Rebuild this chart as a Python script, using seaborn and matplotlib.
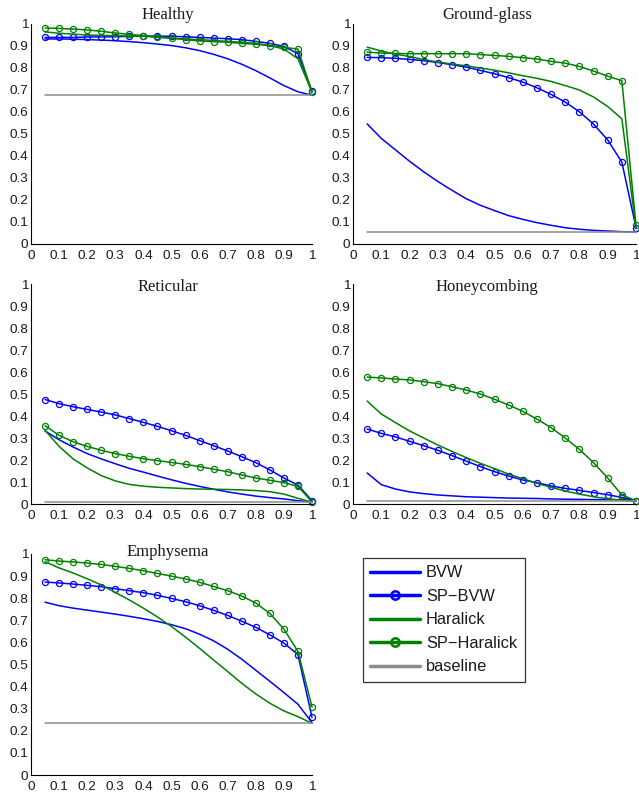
import matplotlib
matplotlib.use("Agg")
import matplotlib.pyplot as plt
from matplotlib.lines import Line2D
import seaborn as sns

# threshold positions on the x axis
thresholds = [0.05, 0.10, 0.15, 0.20, 0.25, 0.30, 0.35, 0.40, 0.45, 0.50,
              0.55, 0.60, 0.65, 0.70, 0.75, 0.80, 0.85, 0.90, 0.95, 1.00]

tick_values = [0, 0.1, 0.2, 0.3, 0.4, 0.5, 0.6, 0.7, 0.8, 0.9, 1]
tick_labels = ["0", "0.1", "0.2", "0.3", "0.4", "0.5", "0.6", "0.7", "0.8", "0.9", "1"]

titles = ["Healthy", "Ground-glass", "Reticular", "Honeycombing", "Emphysema"]
series_names = ["BVW", "SP\u2212BVW", "Haralick", "SP\u2212Haralick", "baseline"]

# Healthy
healthy_bvw = [.932, .932, .931, .929, .927, .924, .920, .915, .909, .902,
               .892, .879, .862, .842, .817, .788, .755, .720, .692, .676]
healthy_sp_bvw = [.939, .939, .939, .941, .941, .942, .944, .945, .945, .944,
                  .942, .939, .936, .933, .929, .921, .912, .898, .865, .694]
healthy_haralick = [.964, .958, .954, .950, .948, .947, .945, .944, .940, .936,
                    .932, .929, .925, .921, .917, .912, .902, .886, .842, .690]
healthy_sp_haralick = [.982, .980, .977, .973, .967, .959, .953, .947, .941, .935,
                       .929, .923, .920, .917, .912, .908, .902, .894, .886, .690]
healthy_baseline = 0.676

# Ground-glass
ground_bvw = [.546, .480, .428, .376, .328, .284, .244, .206, .176, .152,
              .129, .112, .097, .085, .074, .067, .062, .059, .056, .055]
ground_sp_bvw = [.848, .847, .844, .839, .833, .825, .815, .804, .789, .774,
                 .756, .736, .710, .680, .645, .601, .545, .473, .372, .075]
ground_haralick = [.895, .877, .863, .852, .838, .827, .818, .810, .800, .790,
                   .778, .765, .753, .739, .720, .700, .668, .625, .569, .073]
ground_sp_haralick = [.872, .868, .866, .865, .865, .865, .865, .865, .861, .857,
                      .853, .847, .841, .830, .822, .807, .786, .763, .742, .085]
ground_baseline = 0.055

# Reticular
reticular_bvw = [.332, .292, .259, .229, .205, .183, .162, .145, .127, .110,
                 .094, .080, .067, .055, .045, .036, .029, .023, .015, .009]
reticular_sp_bvw = [.475, .456, .442, .430, .418, .405, .388, .371, .353, .333,
                    .312, .288, .265, .241, .215, .188, .155, .118, .086, .015]
reticular_haralick = [.335, .262, .205, .164, .129, .105, .089, .081, .076, .073,
                      .070, .068, .067, .066, .064, .061, .056, .045, .026, .008]
reticular_sp_haralick = [.356, .312, .283, .262, .244, .229, .217, .206, .197, .189,
                         .180, .170, .158, .147, .132, .118, .108, .097, .080, .010]
reticular_baseline = 0.008

# Honeycombing
honey_bvw = [.141, .088, .068, .055, .047, .041, .037, .033, .031, .029,
             .027, .026, .025, .023, .022, .021, .020, .020, .019, .017]
honey_sp_bvw = [.341, .321, .305, .285, .265, .244, .220, .195, .170, .147,
                .127, .109, .097, .082, .071, .062, .052, .042, .030, .015]
honey_haralick = [.468, .409, .370, .332, .300, .268, .239, .211, .185, .161,
                  .136, .115, .094, .076, .059, .045, .033, .024, .017, .012]
honey_sp_haralick = [.577, .573, .568, .564, .556, .547, .533, .518, .500, .476,
                     .450, .421, .386, .347, .300, .248, .188, .118, .041, .015]
honey_baseline = 0.015

# Emphysema
emph_bvw = [.782, .766, .755, .746, .737, .728, .718, .707, .695, .680,
            .662, .637, .607, .569, .524, .474, .424, .373, .320, .237]
emph_sp_bvw = [.873, .869, .864, .858, .852, .843, .834, .825, .813, .799,
               .784, .766, .745, .722, .696, .668, .634, .597, .545, .261]
emph_haralick = [.965, .937, .914, .888, .860, .826, .792, .755, .715, .672,
                 .624, .573, .520, .468, .415, .367, .325, .290, .264, .234]
emph_sp_haralick = [.974, .968, .964, .959, .953, .944, .935, .924, .912, .900,
                    .887, .872, .853, .834, .810, .778, .731, .660, .559, .308]
emph_baseline = 0.234

panels = [
    (healthy_bvw, healthy_sp_bvw, healthy_haralick, healthy_sp_haralick, healthy_baseline),
    (ground_bvw, ground_sp_bvw, ground_haralick, ground_sp_haralick, ground_baseline),
    (reticular_bvw, reticular_sp_bvw, reticular_haralick, reticular_sp_haralick, reticular_baseline),
    (honey_bvw, honey_sp_bvw, honey_haralick, honey_sp_haralick, honey_baseline),
    (emph_bvw, emph_sp_bvw, emph_haralick, emph_sp_haralick, emph_baseline),
]

sns.set_theme(style="white")
plt.rcParams["font.family"] = ["Liberation Sans", "DejaVu Sans"]

W, H = 639, 793
fig = plt.figure(figsize=(W / 100, H / 100), dpi=100)


def px_axes(x0, x1, ytop, ybot):
    return fig.add_axes([x0 / W, 1 - ybot / H, (x1 - x0) / W, (ybot - ytop) / H])


# axes boxes in pixels: (x left, x right, y top, y bottom)
boxes = [(31, 312, 24, 244), (353, 636, 24, 244),
         (31, 312, 284, 504), (353, 636, 284, 504),
         (31, 312, 554, 775)]
# title placement (axes fraction x, pixel offset of baseline below the top)
title_pos = [(0.4875, -5), (0.4735, -5), (0.4875, 7), (0.4735, 7), (0.4875, 2)]

blue = (0, 0, 1)
green = (0, 0.5, 0)
gray = (0.55, 0.55, 0.55)
styles = [dict(color=blue), dict(color=blue, marker="o"),
          dict(color=green), dict(color=green, marker="o"),
          dict(color=gray)]

for i, (box, title, data) in enumerate(zip(boxes, titles, panels)):
    ax = px_axes(*box)
    bvw, sp_bvw, har, sp_har, base = data
    for vals, st in zip([bvw, sp_bvw, har, sp_har, [base] * len(thresholds)], styles):
        kw = dict(lw=1.1, clip_on=False)
        if st.get("marker"):
            kw.update(marker="o", ms=4.4, mfc="none", mec=st["color"], mew=0.9)
        sns.lineplot(x=thresholds, y=vals, ax=ax, color=st["color"],
                     legend=False, **kw)
    ax.set_xlim(0, 1)
    ax.set_ylim(0, 1)
    ax.set_xticks(tick_values)
    ax.set_xticklabels(tick_labels)
    ax.set_yticks(tick_values)
    ax.set_yticklabels(tick_labels)
    ax.tick_params(axis="both", direction="in", length=3, width=0.8,
                   labelsize=9.7, colors="black", labelcolor="#1a1a1a")
    ax.tick_params(axis="y", pad=2)
    ax.tick_params(axis="x", pad=4)
    sns.despine(ax=ax)
    for s in ["left", "bottom"]:
        ax.spines[s].set_color("black")
        ax.spines[s].set_linewidth(0.8)
    tx, toff = title_pos[i]
    hpx = box[3] - box[2]
    ax.text(tx, 1 - toff / hpx, title, transform=ax.transAxes, ha="center",
            va="baseline", fontsize=12, family=["Liberation Serif", "DejaVu Serif"],
            color="#1a1a1a")

handles = []
for st in styles:
    if st.get("marker"):
        handles.append(Line2D([], [], color=st["color"], lw=2.5, marker="o", ms=6,
                              mfc="none", mec=st["color"], mew=1.8))
    else:
        handles.append(Line2D([], [], color=st["color"], lw=2.5))

leg = fig.legend(handles, series_names, loc="upper left",
                 bbox_to_anchor=(363 / W, 1 - 558 / H), bbox_transform=fig.transFigure,
                 frameon=True, fancybox=False, edgecolor="black", fontsize=11.8,
                 handlelength=3.0, handletextpad=0.4, labelspacing=0.52,
                 borderpad=0.45, borderaxespad=0)
leg.get_frame().set_linewidth(0.9)
for t in leg.get_texts():
    t.set_color("#1a1a1a")

fig.savefig("out.png", dpi=100)
